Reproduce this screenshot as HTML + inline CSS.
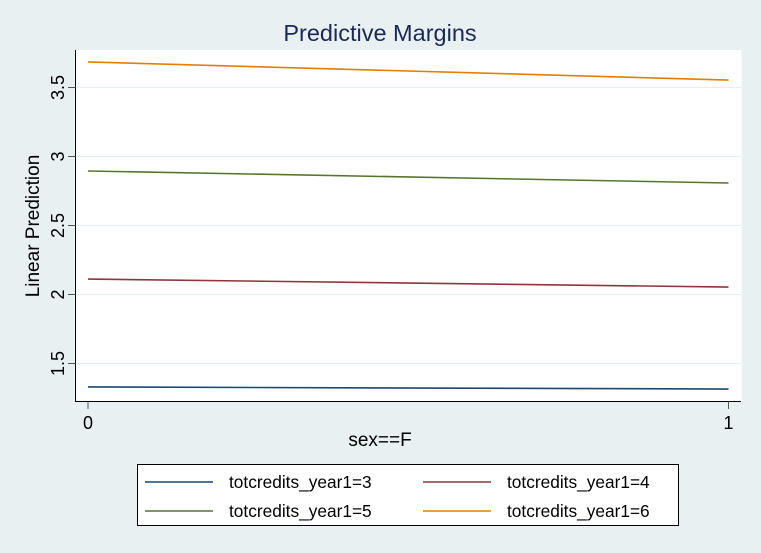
<!DOCTYPE html>
<html><head><meta charset="utf-8"><style>
body{margin:0;background:#E8F0F2;}
svg{display:block;font-family:"Liberation Sans",Arial,sans-serif;}
</style></head><body>
<svg id="chart" width="761" height="553">
<rect x="0" y="0" width="761" height="553" fill="#E8F0F2"/>
<rect x="75.5" y="50" width="666" height="351.5" fill="#fff"/>
<text x="380" y="41" font-size="23.5" fill="#1a2a55" text-anchor="middle">Predictive Margins</text>
<g id="grid"></g>
<g id="series"></g>
<line x1="75.5" y1="50" x2="75.5" y2="402" stroke="#000" stroke-width="1"/>
<line x1="75" y1="401.5" x2="741" y2="401.5" stroke="#000" stroke-width="1"/>
<g id="ticks"></g>
<text x="380" y="446" font-size="19" text-anchor="middle">sex==F</text>
<text transform="translate(39,226) rotate(-90)" font-size="19" text-anchor="middle">Linear Prediction</text>
<g>
<rect x="137.5" y="464.5" width="541" height="61" fill="#fff" stroke="#000" stroke-width="1"/>
<g id="legend"></g>
</g>
</svg>
<script>
const categories=[0,1];
const series=["totcredits_year1=3","totcredits_year1=4","totcredits_year1=5","totcredits_year1=6"];
const colors=["#1a476f","#90353b","#55752f","#e37e00"];
const values3=[1.33,1.315];
const values4=[2.112,2.054];
const values5=[2.895,2.808];
const values6=[3.685,3.554];
const yTicks=[1.5,2,2.5,3,3.5];
const xTicks=[0,1];
const allValues=[values3,values4,values5,values6];
const NS="http://www.w3.org/2000/svg";
function X(v){return 88+(v-0)*(728.5-88);}
function Y(v){return 363.5-(v-1.5)*138;}
function mk(tag,attrs,parent){const e=document.createElementNS(NS,tag);for(const k in attrs)e.setAttribute(k,attrs[k]);parent.appendChild(e);return e;}
const grid=document.getElementById('grid'),ticks=document.getElementById('ticks'),sg=document.getElementById('series'),lg=document.getElementById('legend');
yTicks.forEach(t=>{
 const g=mk('line',{x1:75.5,x2:741,y1:Y(t),y2:Y(t),stroke:'#e8eff2','stroke-width':1.2},grid);
 
 
 const tk=mk('line',{x1:68,x2:75.5,y1:Y(t),y2:Y(t),stroke:'#555','stroke-width':1},ticks);
 
 
 const tx=mk('text',{transform:`translate(64,${Y(t)}) rotate(-90)`,'font-size':18,'text-anchor':'middle'},ticks);
 tx.textContent=String(t);
 
 
});
xTicks.forEach(t=>{
 const tk=mk('line',{x1:X(t),x2:X(t),y1:401.5,y2:409,stroke:'#555','stroke-width':1},ticks);
 
 
 const tx=mk('text',{x:X(t),y:429,'font-size':18,'text-anchor':'middle'},ticks);
 tx.textContent=String(t);
 
 
});
allValues.forEach((vals,i)=>{
 const pts=vals.map((v,j)=>X(categories[j])+','+Y(v)).join(' ');
 const l=mk('polyline',{points:pts,fill:'none',stroke:colors[i],'stroke-width':1.6},sg);
 
 
});
[0,1,2,3].forEach(i=>{
 const col=i%2,row=Math.floor(i/2);
 const lx=col?423:145,ly=row?511:482;
 const l=mk('line',{x1:lx,x2:lx+68,y1:ly,y2:ly,stroke:colors[i],'stroke-width':1.6},lg);
 
 
 const t=mk('text',{x:lx+84,y:ly+6,'font-size':17.3},lg);
 t.textContent=series[i];
 
 
});
</script>
</body></html>
